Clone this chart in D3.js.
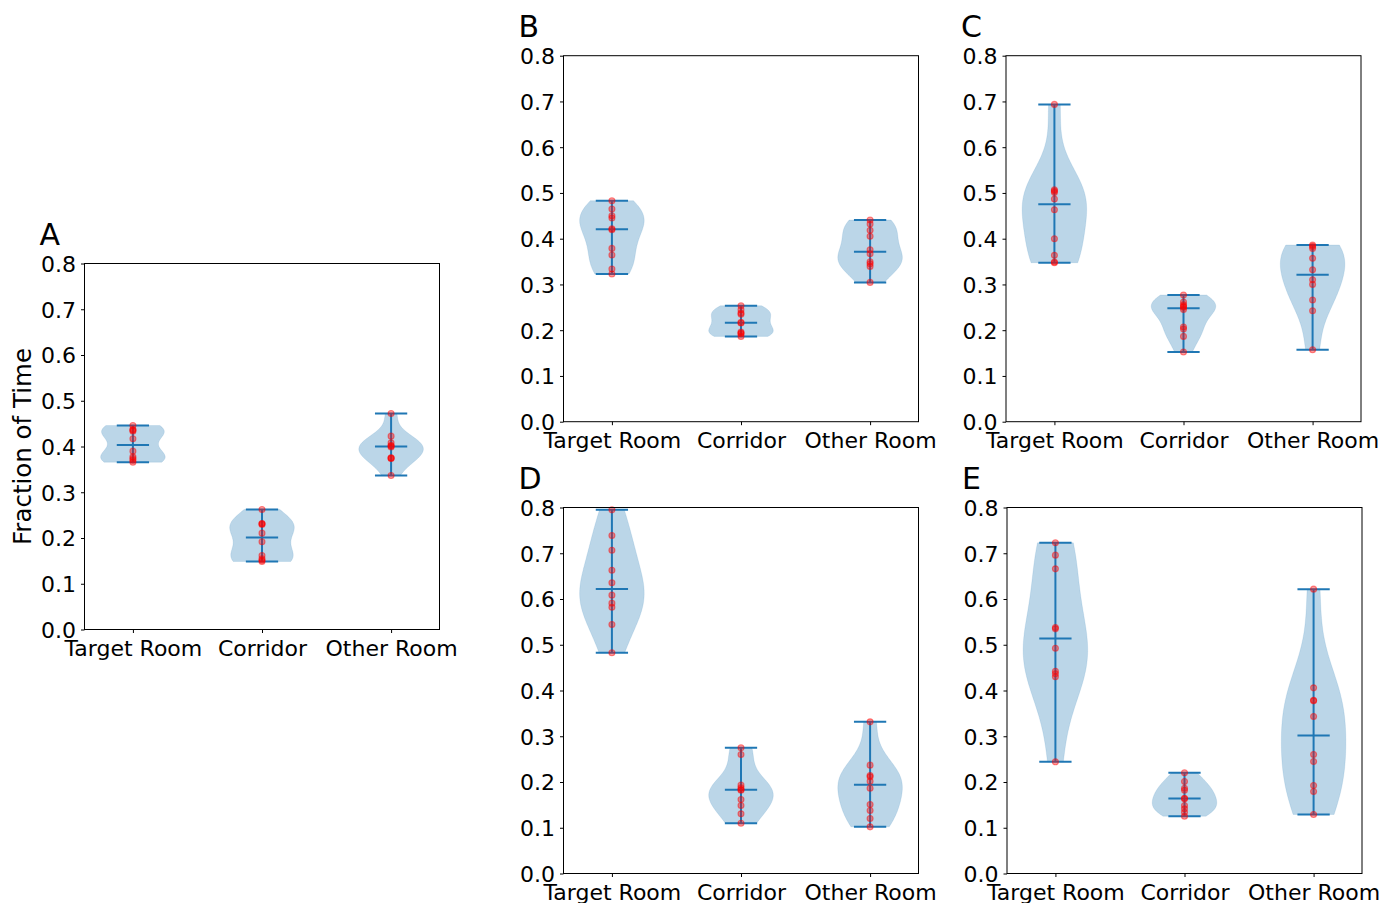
<!DOCTYPE html>
<html>
<head>
<meta charset="utf-8">
<script src="https://cdn.jsdelivr.net/npm/d3@7"></script>
<style>
  html, body { margin: 0; padding: 0; background: #fff; }
  svg { display: block; font-family: "DejaVu Sans", sans-serif; }
</style>
</head>
<body>
<svg id="chart" width="1393" height="903"></svg>
<script>
// ---------- data ----------
const categories = ["Target Room", "Corridor", "Other Room"];
const yTicks = [0, 0.1, 0.2, 0.3, 0.4, 0.5, 0.6, 0.7, 0.8];
const yLabel = "Fraction of Time";
const panelLabels = ["A", "B", "C", "D", "E"];

const panelA_target   = [0.4459, 0.4370, 0.4357, 0.4335, 0.4168, 0.3898, 0.3774, 0.3738, 0.3701, 0.3657];
const panelA_corridor = [0.2623, 0.2317, 0.2310, 0.2295, 0.2106, 0.1917, 0.1617, 0.1545, 0.1515, 0.1486];
const panelA_other    = [0.4721, 0.4226, 0.4080, 0.4022, 0.4010, 0.3990, 0.3753, 0.3745, 0.3738, 0.3366];

const panelB_target   = [0.4831, 0.4649, 0.4503, 0.4452, 0.4219, 0.4197, 0.3788, 0.3643, 0.3337, 0.3228];
const panelB_corridor = [0.2536, 0.2448, 0.2376, 0.2346, 0.2171, 0.2157, 0.1961, 0.1940, 0.1923, 0.1865];
const panelB_other    = [0.4408, 0.4321, 0.4182, 0.4051, 0.3760, 0.3672, 0.3497, 0.3453, 0.3395, 0.3045];

const panelC_target   = [0.6936, 0.5071, 0.5042, 0.5012, 0.4867, 0.4634, 0.4000, 0.3636, 0.3491, 0.3475];
const panelC_corridor = [0.2769, 0.2616, 0.2557, 0.2521, 0.2500, 0.2455, 0.2070, 0.2026, 0.1865, 0.1523];
const panelC_other    = [0.3862, 0.3832, 0.3788, 0.3570, 0.3322, 0.3104, 0.3001, 0.2659, 0.2426, 0.1574];

const panelD_target   = [0.7949, 0.7388, 0.7067, 0.6630, 0.6354, 0.6084, 0.5909, 0.5821, 0.5443, 0.4824];
const panelD_corridor = [0.2747, 0.2601, 0.1931, 0.1873, 0.1836, 0.1820, 0.1617, 0.1486, 0.1304, 0.1100];
const panelD_other    = [0.3315, 0.2368, 0.2142, 0.2113, 0.2018, 0.1865, 0.1508, 0.1377, 0.1202, 0.1020];

const panelE_target   = [0.7228, 0.6958, 0.6659, 0.5377, 0.5348, 0.4925, 0.4422, 0.4365, 0.4299, 0.2441];
const panelE_corridor = [0.2201, 0.2011, 0.1865, 0.1821, 0.1646, 0.1632, 0.1486, 0.1413, 0.1340, 0.1253];
const panelE_other    = [0.6215, 0.4058, 0.3788, 0.3774, 0.3432, 0.2601, 0.2448, 0.1923, 0.1792, 0.1290];

// ---------- layout ----------
const panels = [
  { label: panelLabels[0], x0: 84.5,  y0: 263.5, ylab: true,  series: [panelA_target, panelA_corridor, panelA_other] },
  { label: panelLabels[1], x0: 563.5, y0: 55.7,  ylab: false, series: [panelB_target, panelB_corridor, panelB_other] },
  { label: panelLabels[2], x0: 1006,  y0: 55.7,  ylab: false, series: [panelC_target, panelC_corridor, panelC_other] },
  { label: panelLabels[3], x0: 563.5, y0: 507.5, ylab: false, series: [panelD_target, panelD_corridor, panelD_other] },
  { label: panelLabels[4], x0: 1007,  y0: 507.5, ylab: false, series: [panelE_target, panelE_corridor, panelE_other] }
];
const W = 355, H = 366;
const C0 = "#1f77b4";
const svg = d3.select("#chart");

function kde(data) {
  const n = data.length;
  const sd = d3.deviation(data); // ddof=1
  const bw = sd * Math.pow(n, -0.2);
  return x => d3.sum(data, d => Math.exp(-0.5 * ((x - d) / bw) ** 2));
}

panels.forEach(p => {
  const g = svg.append("g");
  const x = d3.scaleLinear().domain([0.625, 3.375]).range([p.x0, p.x0 + W]);
  const y = d3.scaleLinear().domain([0, 0.8]).range([p.y0 + H, p.y0]);
  const unit = x(2) - x(1);

  // violins
  p.series.forEach((data, i) => {
    const cx = x(i + 1);
    const lo = d3.min(data), hi = d3.max(data);
    const f = kde(data);
    const coords = d3.range(100).map(k => lo + (hi - lo) * k / 99);
    const vals = coords.map(f);
    const vmax = d3.max(vals);
    const pts = coords.map((c, k) => ({ v: c, w: 0.25 * unit * vals[k] / vmax }));
    const area = d3.area().y(d => y(d.v)).x0(d => cx - d.w).x1(d => cx + d.w);
    g.append("path").attr("d", area(pts))
      .attr("fill", C0).attr("fill-opacity", 0.3)
      .attr("stroke", C0).attr("stroke-opacity", 0.15).attr("stroke-width", 0.8);
  });

  // bars, caps, medians
  p.series.forEach((data, i) => {
    const cx = x(i + 1);
    const lo = d3.min(data), hi = d3.max(data), med = d3.median(data);
    const cw = 0.125 * unit;
    g.append("line").attr("x1", cx).attr("x2", cx).attr("y1", y(lo)).attr("y2", y(hi))
      .attr("stroke", C0).attr("stroke-width", 2);
    [lo, hi, med].forEach(v => {
      g.append("line").attr("x1", cx - cw).attr("x2", cx + cw).attr("y1", y(v)).attr("y2", y(v))
        .attr("stroke", C0).attr("stroke-width", 2);
    });
  });

  // points
  p.series.forEach((data, i) => {
    const cx = x(i + 1);
    g.selectAll(null).data(data).enter().append("circle")
      .attr("cx", cx).attr("cy", d => y(d)).attr("r", 3)
      .attr("fill", "red").attr("fill-opacity", 0.4)
      .attr("stroke", "red").attr("stroke-opacity", 0.45).attr("stroke-width", 1.1);
  });

  // frame
  g.append("rect").attr("x", p.x0).attr("y", p.y0).attr("width", W).attr("height", H)
    .attr("fill", "none").attr("stroke", "#000").attr("stroke-width", 1);

  // y axis
  const yAxis = d3.axisLeft(y).tickValues(yTicks).tickFormat(d3.format(".1f")).tickSize(3.5).tickPadding(5);
  const ya = g.append("g").attr("transform", `translate(${p.x0},0)`).call(yAxis);
  ya.select(".domain").remove();
  ya.selectAll("text").attr("font-size", "22px").attr("fill", "#000")
    .attr("font-family", "DejaVu Sans, sans-serif").attr("dy", "0.36em");
  ya.selectAll("line").attr("stroke", "#000");

  // x axis
  const xAxis = d3.axisBottom(x).tickValues([1, 2, 3]).tickFormat(d => categories[d - 1]).tickSize(3.5).tickPadding(7);
  const xa = g.append("g").attr("transform", `translate(0,${p.y0 + H})`).call(xAxis);
  xa.select(".domain").remove();
  xa.selectAll("text").attr("font-size", "22px").attr("fill", "#000")
    .attr("font-family", "DejaVu Sans, sans-serif");
  xa.selectAll("line").attr("stroke", "#000");

  // panel label
  g.append("text").attr("x", p.x0 - 45).attr("y", p.y0 - 19)
    .attr("font-size", "30px").attr("fill", "#000").text(p.label);

  if (p.ylab) {
    g.append("text")
      .attr("transform", `translate(31,${p.y0 + H / 2}) rotate(-90)`)
      .attr("text-anchor", "middle").attr("font-size", "24.5px").attr("fill", "#000")
      .text(yLabel);
  }
});
</script>
</body>
</html>
